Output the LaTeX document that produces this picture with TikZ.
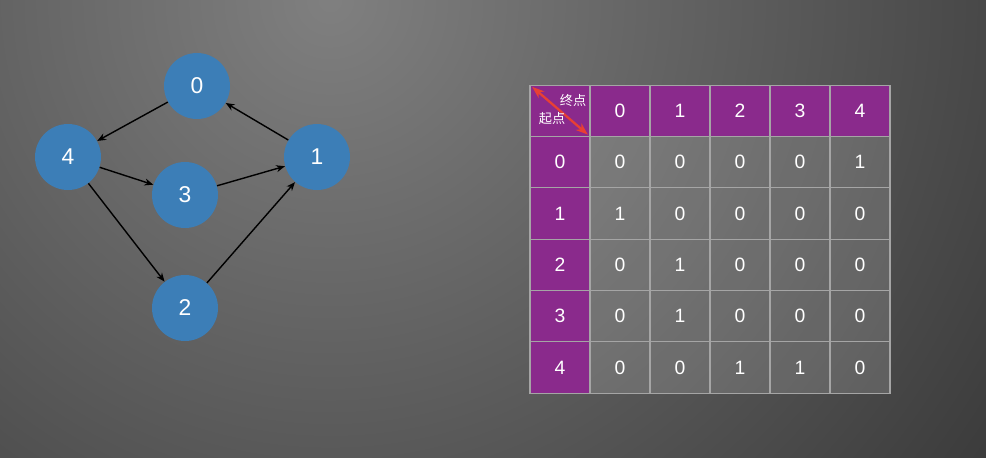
\documentclass[tikz,border=0pt]{standalone}
\usepackage{fontspec}
\setmainfont{Liberation Sans}
\newfontfamily\cjk{Noto Sans CJK SC}
\usetikzlibrary{arrows.meta}
\definecolor{vertexblue}{RGB}{60,126,183}
\definecolor{headpurple}{RGB}{138,42,140}
\definecolor{gridgray}{RGB}{165,165,165}
\definecolor{markred}{RGB}{232,64,52}

\tikzset{
  vertex/.style={circle, fill=vertexblue, text=white, minimum size=1.32cm, inner sep=0pt,
    font=\fontsize{13}{13}\selectfont},
  cell/.style={draw=gridgray, line width=0.6pt, minimum width=1.2cm, minimum height=1.027cm,
    inner sep=0pt, text=white, font=\fontsize{11}{11}\selectfont},
  headcell/.style={cell, fill=headpurple},
  bodycell/.style={cell, fill=white, fill opacity=0.14, text opacity=1},
  cornertext/.style={text=white, inner sep=0pt, font=\cjk\fontsize{7.5}{7.5}\selectfont},
}

\begin{document}
\begin{tikzpicture}[x=0.02cm, y=-0.02cm, >={Stealth[length=5pt,width=4pt]}]
    \useasboundingbox (0,0) rectangle (986,457);
    \begin{scope}
        \clip (0,0) rectangle (986,457);
        \shade[inner color=black!50, outer color=black!82] (330,0) circle (960);
    \end{scope}

    % graph
    \node[vertex] (v0) at (197,86) {0};
    \node[vertex] (v1) at (317,157) {1};
    \node[vertex] (v2) at (185,308) {2};
    \node[vertex] (v3) at (185,195) {3};
    \node[vertex] (v4) at (68,157) {4};

    \draw[->, line width=0.8pt] (v0) -- (v4);
    \draw[->, line width=0.8pt] (v1) -- (v0);
    \draw[->, line width=0.8pt] (v4) -- (v3);
    \draw[->, line width=0.8pt] (v3) -- (v1);
    \draw[->, line width=0.8pt] (v4) -- (v2);
    \draw[->, line width=0.8pt] (v2) -- (v1);

    % adjacency matrix
    \node[headcell] (corner) at (560,110.7) {};
    \foreach \lab [count=\c] in {0,...,4}
        \node[headcell] (h-\c) at ({560+60*\c},110.7) {\lab};
    \foreach \lab [count=\r] in {0,...,4}
        \node[headcell] (s-\r) at (560,{110.7+51.33*\r}) {\lab};
    \foreach \row [count=\r] in {{0,0,0,0,1},{1,0,0,0,0},{0,1,0,0,0},{0,1,0,0,0},{0,0,1,1,0}}
        \foreach \val [count=\c] in \row
            \node[bodycell] (m-\r-\c) at ({560+60*\c},{110.7+51.33*\r}) {\val};

    \draw[{Stealth[length=7pt,width=5pt]}-{Stealth[length=7pt,width=5pt]}, markred, line width=1.3pt,
        shorten <=2pt, shorten >=2pt] (corner.north west) -- (corner.south east);
    \node[cornertext] (endlabel) at (573,100) {终点};
    \node[cornertext] (startlabel) at (552,119) {起点};
\end{tikzpicture}
\end{document}
